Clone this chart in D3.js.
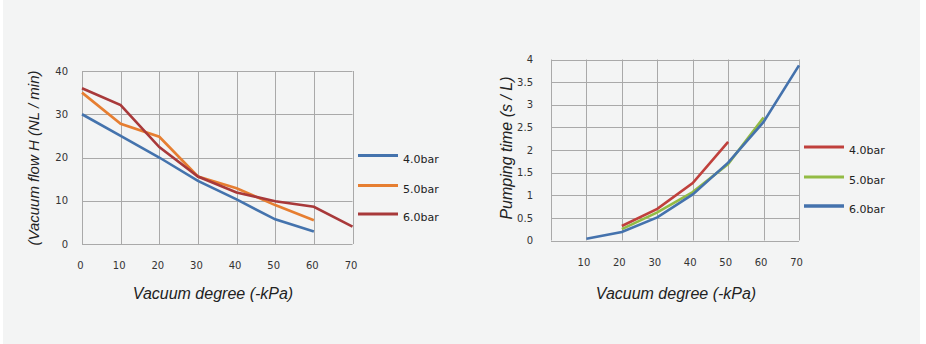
<!DOCTYPE html>
<html>
<head>
<meta charset="utf-8">
<script src="https://cdn.jsdelivr.net/npm/d3@7"></script>
<style>
  html, body { margin: 0; padding: 0; background: #ffffff; }
  svg { display: block; }
</style>
</head>
<body>
<svg id="chart" width="926" height="344"></svg>
<script>
// Vacuum flow vs vacuum degree
const flowX = [0, 10, 20, 30, 40, 50, 60, 70];
const flow40 = [30, 25, 20, 14.6, 10.3, 5.7, 2.9, null];
const flow50 = [35, 27.8, 24.8, 15.6, 12.9, 9.0, 5.5, null];
const flow60 = [36, 32.1, 22.4, 15.6, 11.9, 9.9, 8.6, 4.0];
const flowYTicks = [0, 10, 20, 30, 40];
const flowXTicks = [0, 10, 20, 30, 40, 50, 60, 70];

// Pumping time vs vacuum degree
const pumpX = [10, 20, 30, 40, 50, 60, 70];
const pump40 = [null, 0.32, 0.70, 1.27, 2.18, null, null];
const pump50 = [null, 0.25, 0.62, 1.07, 1.69, 2.72, null];
const pump60 = [0.04, 0.19, 0.51, 1.02, 1.72, 2.62, 3.87];
const pumpYTicks = [0, 0.5, 1, 1.5, 2, 2.5, 3, 3.5, 4];
const pumpXTicks = [10, 20, 30, 40, 50, 60, 70];

const seriesLabels = ["4.0bar", "5.0bar", "6.0bar"];
const flowColors = ["#4473ad", "#e67e31", "#a8393a"];
const pumpColors = ["#c0403c", "#93bb44", "#4472ad"];

const svg = d3.select("#chart");
svg.append("rect").attr("x", 3).attr("y", 0).attr("width", 917).attr("height", 344).attr("fill", "#f3f4f4");

const tickFont = "'DejaVu Sans', Verdana, sans-serif";
const titleFont = "'Liberation Sans', Arial, sans-serif";

function drawPanel(cfg) {
  const g = svg.append("g");
  const x = d3.scaleLinear().domain([0, 70]).range([cfg.left, cfg.right]);
  const y = d3.scaleLinear().domain(cfg.yDomain).range([cfg.bottom, cfg.top]);

  // grid
  g.selectAll(".hg").data(cfg.yTicks).join("line")
    .attr("x1", cfg.left).attr("x2", cfg.right)
    .attr("y1", d => Math.round(y(d)) + 0.5).attr("y2", d => Math.round(y(d)) + 0.5)
    .attr("stroke", "#a9a9a9").attr("stroke-width", 1);
  g.selectAll(".vg").data(flowXTicks).join("line")
    .attr("x1", d => Math.round(x(d)) + 0.5).attr("x2", d => Math.round(x(d)) + 0.5)
    .attr("y1", cfg.top).attr("y2", cfg.bottom)
    .attr("stroke", "#a9a9a9").attr("stroke-width", 1);

  // axes
  const yAxis = d3.axisLeft(y).tickValues(cfg.yTicks).tickSize(0).tickPadding(cfg.yPad).tickFormat(d3.format("~g"));
  const xAxis = d3.axisBottom(x).tickValues(cfg.xTicks).tickSize(0).tickPadding(cfg.xPad).tickFormat(d3.format("d"));
  const ya = g.append("g").attr("transform", `translate(${cfg.left},0)`).call(yAxis);
  const xa = g.append("g").attr("transform", `translate(0,${cfg.bottom})`).call(xAxis);
  [ya, xa].forEach(a => {
    a.select(".domain").remove();
    a.selectAll("text").attr("font-family", tickFont).attr("font-size", 10).attr("fill", "#333");
  });
  xa.selectAll("text").attr("dx", cfg.xdx);

  // series
  const line = d3.line().defined(d => d[1] != null).x(d => x(d[0])).y(d => y(d[1]));
  cfg.series.forEach((s, i) => {
    g.append("path")
      .datum(cfg.xs.map((v, j) => [v, s[j]]))
      .attr("d", line)
      .attr("fill", "none")
      .attr("stroke", cfg.colors[i])
      .attr("stroke-width", 2.6)
      .attr("stroke-linejoin", "miter");
  });

  // legend
  const lg = g.append("g");
  seriesLabels.forEach((lab, i) => {
    const ly = cfg.legendY[i];
    lg.append("line").attr("x1", cfg.legendX).attr("x2", cfg.legendX + 40)
      .attr("y1", ly).attr("y2", ly).attr("stroke", cfg.colors[i]).attr("stroke-width", cfg.legendW[i]);
    lg.append("text").attr("x", cfg.legendX + 45).attr("y", ly + 7)
      .attr("font-family", tickFont).attr("font-size", 11).attr("fill", "#222").text(lab);
  });

  // titles
  g.append("text")
    .attr("transform", `translate(${cfg.yTitleX},${cfg.yTitleY}) rotate(-90)`)
    .attr("text-anchor", "middle").attr("font-family", titleFont).attr("font-style", "italic")
    .attr("font-size", cfg.yTitleSize).attr("fill", "#222").text(cfg.yTitle);
  g.append("text")
    .attr("x", cfg.xTitleX).attr("y", 299)
    .attr("text-anchor", "middle").attr("font-family", titleFont).attr("font-style", "italic")
    .attr("font-size", 16).attr("fill", "#222").text("Vacuum degree (-kPa)");
}

drawPanel({
  left: 82, right: 352.5, top: 71, bottom: 244,
  yDomain: [0, 40], yTicks: flowYTicks, xTicks: flowXTicks, xs: flowX,
  series: [flow40, flow50, flow60], colors: flowColors,
  yPad: 14, xPad: 18, xdx: "-0.2em",
  legendX: 358, legendY: [155.5, 185.5, 214], legendW: [3, 3, 3],
  yTitle: "(Vacuum flow H (NL / min)", yTitleX: 39, yTitleY: 158, yTitleSize: 15,
  xTitleX: 213
});

drawPanel({
  left: 551, right: 799, top: 59.5, bottom: 240.5,
  yDomain: [0, 4], yTicks: pumpYTicks, xTicks: pumpXTicks, xs: pumpX,
  series: [pump40, pump50, pump60], colors: pumpColors,
  yPad: 18, xPad: 18, xdx: "-0.3em",
  legendX: 804, legendY: [147, 177, 206], legendW: [3, 3, 3.5],
  yTitle: "Pumping time (s / L)", yTitleX: 512, yTitleY: 148, yTitleSize: 16,
  xTitleX: 676
});
</script>
</body>
</html>
